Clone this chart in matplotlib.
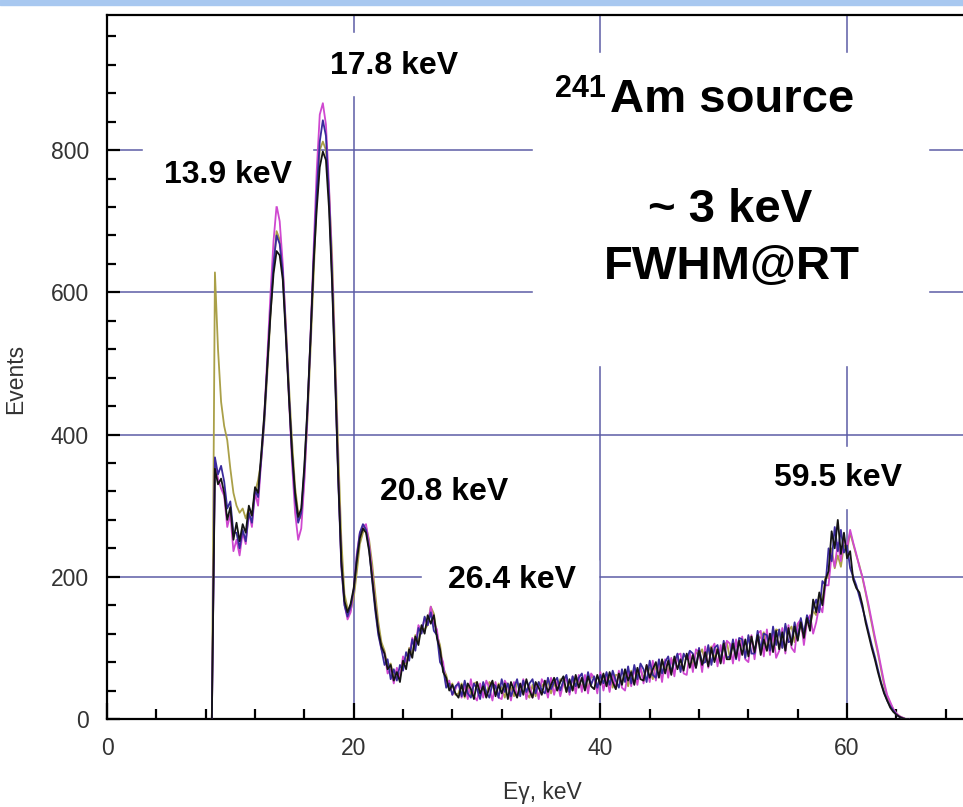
import numpy as np
import matplotlib
matplotlib.use("Agg")
import matplotlib.pyplot as plt
from matplotlib.patches import Rectangle
from matplotlib.ticker import MultipleLocator

plt.rcParams['font.family'] = ['Liberation Sans', 'DejaVu Sans']

# channel energies: 8.5 keV .. 65.0 keV, 0.25 keV per channel
e_start = 8.5
e_step = 0.25

# four repeated measurements of the 241Am spectrum (counts per channel)
run_olive = [
    0, 628, 520, 446, 412, 392, 352, 318, 300, 290, 296, 282,
    296, 286, 318, 336, 362, 414, 486, 566, 638, 686, 674, 632,
    556, 470, 392, 326, 290, 282, 340, 420, 518, 622, 730, 800,
    812, 800, 744, 652, 514, 376, 252, 176, 156, 152, 170, 206,
    246, 262, 270, 252, 218, 176, 136, 108, 96, 74, 78, 58,
    70, 60, 84, 78, 100, 92, 118, 110, 128, 126, 132, 158,
    148, 118, 104, 72, 62, 44, 50, 34, 36, 50, 30, 48,
    34, 50, 52, 32, 46, 32, 52, 48, 34, 50, 44, 30,
    50, 44, 32, 52, 44, 50, 36, 30, 48, 32, 52, 46,
    52, 54, 36, 50, 40, 56, 52, 38, 52, 40, 60, 54,
    44, 58, 42, 60, 58, 44, 60, 62, 46, 64, 44, 62,
    62, 50, 66, 46, 68, 50, 64, 72, 56, 74, 72, 56,
    76, 60, 82, 76, 66, 84, 80, 88, 70, 90, 86, 92,
    74, 94, 90, 98, 80, 96, 102, 84, 100, 84, 104, 108,
    86, 108, 102, 110, 110, 88, 114, 116, 92, 116, 114, 122,
    96, 120, 118, 126, 124, 100, 130, 124, 130, 108, 134, 128,
    118, 142, 130, 152, 146, 172, 166, 200, 198, 240, 212, 230,
    214, 244, 236, 262, 246, 230, 216, 198, 178, 156, 134, 112,
    92, 70, 48, 32, 22, 14, 8, 4, 2, 0, 0,
]
run_magenta = [
    0, 360, 338, 324, 314, 270, 288, 236, 252, 230, 262, 246,
    290, 270, 318, 300, 364, 426, 510, 596, 672, 722, 700, 640,
    548, 452, 360, 290, 252, 268, 334, 428, 540, 660, 770, 850,
    866, 836, 750, 630, 490, 342, 216, 162, 140, 150, 182, 232,
    262, 270, 274, 246, 204, 160, 122, 98, 92, 64, 70, 50,
    72, 58, 88, 80, 88, 114, 104, 132, 122, 142, 132, 158,
    134, 126, 92, 80, 48, 54, 34, 42, 52, 30, 48, 28,
    56, 32, 26, 50, 30, 54, 44, 26, 52, 30, 28, 54,
    46, 26, 52, 32, 36, 56, 28, 48, 30, 50, 28, 56,
    48, 30, 58, 34, 54, 32, 50, 58, 34, 60, 36, 62,
    38, 62, 36, 64, 58, 36, 66, 40, 60, 38, 64, 42,
    68, 44, 40, 68, 46, 72, 48, 74, 50, 76, 52, 82,
    54, 80, 52, 84, 58, 86, 60, 90, 92, 64, 62, 94,
    66, 98, 94, 66, 102, 72, 98, 106, 74, 104, 78, 110,
    106, 78, 112, 82, 116, 84, 80, 118, 84, 120, 124, 88,
    126, 90, 122, 86, 96, 128, 92, 132, 100, 94, 134, 140,
    104, 136, 146, 120, 136, 160, 150, 188, 188, 232, 214, 248,
    222, 256, 240, 266, 248, 232, 214, 200, 180, 160, 138, 116,
    96, 74, 52, 34, 24, 14, 8, 4, 2, 0, 0,
]
run_navy = [
    0, 368, 344, 356, 334, 296, 306, 262, 262, 240, 266, 250,
    290, 276, 322, 312, 366, 420, 496, 574, 640, 680, 668, 628,
    544, 458, 372, 310, 276, 290, 350, 434, 534, 646, 740, 812,
    842, 820, 734, 620, 482, 334, 214, 160, 144, 158, 180, 228,
    262, 274, 266, 240, 194, 152, 118, 98, 76, 84, 56, 70,
    54, 76, 68, 94, 82, 112, 96, 128, 120, 144, 132, 150,
    124, 118, 80, 72, 44, 50, 34, 46, 50, 32, 54, 36,
    30, 50, 42, 28, 52, 38, 30, 50, 46, 30, 56, 38,
    50, 32, 44, 56, 32, 54, 38, 50, 56, 36, 52, 40,
    36, 58, 42, 52, 58, 40, 54, 62, 38, 60, 46, 58,
    64, 42, 66, 48, 60, 44, 62, 50, 66, 48, 68, 54,
    44, 70, 52, 74, 50, 76, 56, 78, 70, 52, 82, 62,
    58, 84, 64, 80, 88, 66, 80, 92, 66, 92, 84, 96,
    92, 72, 100, 78, 80, 104, 76, 100, 104, 80, 110, 86,
    88, 112, 84, 114, 112, 86, 118, 92, 92, 124, 98, 120,
    118, 96, 130, 104, 126, 100, 134, 108, 110, 136, 112, 142,
    120, 146, 134, 156, 168, 150, 194, 188, 240, 222, 270, 236,
    266, 234, 244, 212, 200, 188, 172, 156, 140, 122, 104, 88,
    70, 52, 38, 26, 18, 12, 6, 3, 1, 0, 0,
]
run_black = [
    0, 352, 330, 338, 318, 280, 298, 252, 276, 250, 274, 262,
    300, 286, 326, 318, 372, 428, 498, 568, 626, 658, 652, 618,
    538, 452, 376, 318, 284, 296, 356, 438, 536, 640, 716, 776,
    798, 786, 718, 612, 478, 338, 222, 166, 150, 162, 184, 222,
    254, 268, 262, 236, 198, 158, 124, 102, 92, 70, 76, 54,
    66, 52, 82, 70, 98, 86, 116, 104, 132, 120, 146, 134,
    146, 114, 98, 66, 58, 40, 48, 36, 30, 48, 32, 50,
    42, 28, 52, 36, 46, 30, 44, 54, 32, 48, 36, 50,
    28, 52, 40, 30, 50, 34, 56, 40, 30, 52, 44, 34,
    54, 38, 48, 58, 40, 52, 60, 38, 56, 40, 62, 44,
    58, 40, 60, 46, 42, 62, 48, 64, 46, 66, 52, 42,
    64, 48, 70, 54, 66, 48, 72, 56, 54, 76, 58, 70,
    80, 58, 84, 64, 82, 62, 88, 70, 84, 68, 92, 72,
    90, 72, 96, 76, 94, 74, 100, 80, 98, 78, 106, 84,
    84, 106, 86, 110, 90, 112, 88, 116, 94, 118, 90, 112,
    96, 120, 94, 124, 98, 122, 96, 128, 104, 130, 110, 136,
    114, 142, 124, 168, 150, 178, 160, 196, 208, 264, 240, 280,
    232, 262, 226, 236, 196, 184, 178, 160, 136, 118, 100, 84,
    66, 50, 36, 26, 16, 10, 6, 3, 1, 0, 0,
]

runs = [run_olive, run_magenta, run_navy, run_black]
run_colors = ['#aaa048', '#cf48d0', '#3a2a9c', '#141414']

W, H = 963, 807
fig = plt.figure(figsize=(W / 100, H / 100), dpi=100)
ax = fig.add_axes([107 / W, 88 / H, 1 - 107 / W, (719 - 15) / H])


def at(px, py):
    # pixel position (from top-left) -> figure fraction
    return px / W, 1 - py / H


energy = e_start + e_step * np.arange(len(run_black))
for counts, col in zip(runs, run_colors):
    ax.plot(energy, counts, color=col, lw=1.3, zorder=3)

ax.set_xlim(0, 69.4)
ax.set_ylim(0, 990)
ax.xaxis.set_major_locator(MultipleLocator(20))
ax.xaxis.set_minor_locator(MultipleLocator(4))
ax.yaxis.set_major_locator(MultipleLocator(200))
ax.yaxis.set_minor_locator(MultipleLocator(40))
ax.grid(True, which='major', color='#5c5ca6', lw=1.1, zorder=1)
ax.set_axisbelow(True)

ax.tick_params(axis='x', which='major', direction='in', length=11.5, width=1.6,
               pad=13, labelsize=16.5, labelcolor='#333333')
ax.tick_params(axis='x', which='minor', direction='in', length=7, width=1.6)
ax.tick_params(axis='y', which='major', direction='in', length=9, width=1.6,
               pad=13, labelsize=16.5, labelcolor='#333333')
ax.tick_params(axis='y', which='minor', direction='in', length=6.5, width=1.6)
ax.tick_params(right=False, top=False, which='both')

for side in ['left', 'bottom', 'top']:
    ax.spines[side].set_linewidth(1.6)
    ax.spines[side].set_color('black')
ax.spines['right'].set_visible(False)

fig.text(*at(16, 379), 'Events', rotation=90, ha='center', va='center',
         fontsize=16.5, color='#333333')
fig.text(*at(542, 793), 'Eγ, keV', ha='center', va='center',
         fontsize=16.5, color='#333333')

# white backgrounds under the annotations
for x0, y0, x1, y1 in [(533, 53, 928, 365), (322, 33, 466, 95),
                       (143, 140, 312, 205), (422, 560, 598, 600),
                       (768, 447, 910, 508)]:
    fig.patches.append(Rectangle(at(x0, y1), (x1 - x0) / W, (y1 - y0) / H,
                                 transform=fig.transFigure, color='white',
                                 zorder=1))

# top band
fig.patches.append(Rectangle(at(0, 5), 1, 5 / H, transform=fig.transFigure,
                             color='#a8c8f0', zorder=1))

peak_labels = [('17.8 keV', 394, 66), ('13.9 keV', 228, 175),
               ('20.8 keV', 444, 492), ('26.4 keV', 512, 580),
               ('59.5 keV', 838, 478)]
for txt, px, py in peak_labels:
    fig.text(*at(px, py), txt, ha='center', va='center', fontsize=23,
             fontweight='bold', zorder=4)

fig.text(*at(610, 112), 'Am source', ha='left', va='baseline', fontsize=34,
         fontweight='bold', zorder=4)
fig.text(*at(606, 97), '241', ha='right', va='baseline', fontsize=22,
         fontweight='bold', zorder=4)
fig.text(*at(730, 210), '~ 3 keV', ha='center', va='center', fontsize=34,
         fontweight='bold', zorder=4)
fig.text(*at(732, 267), 'FWHM@RT', ha='center', va='center', fontsize=34,
         fontweight='bold', zorder=4)

fig.savefig('out.png', dpi=100)
